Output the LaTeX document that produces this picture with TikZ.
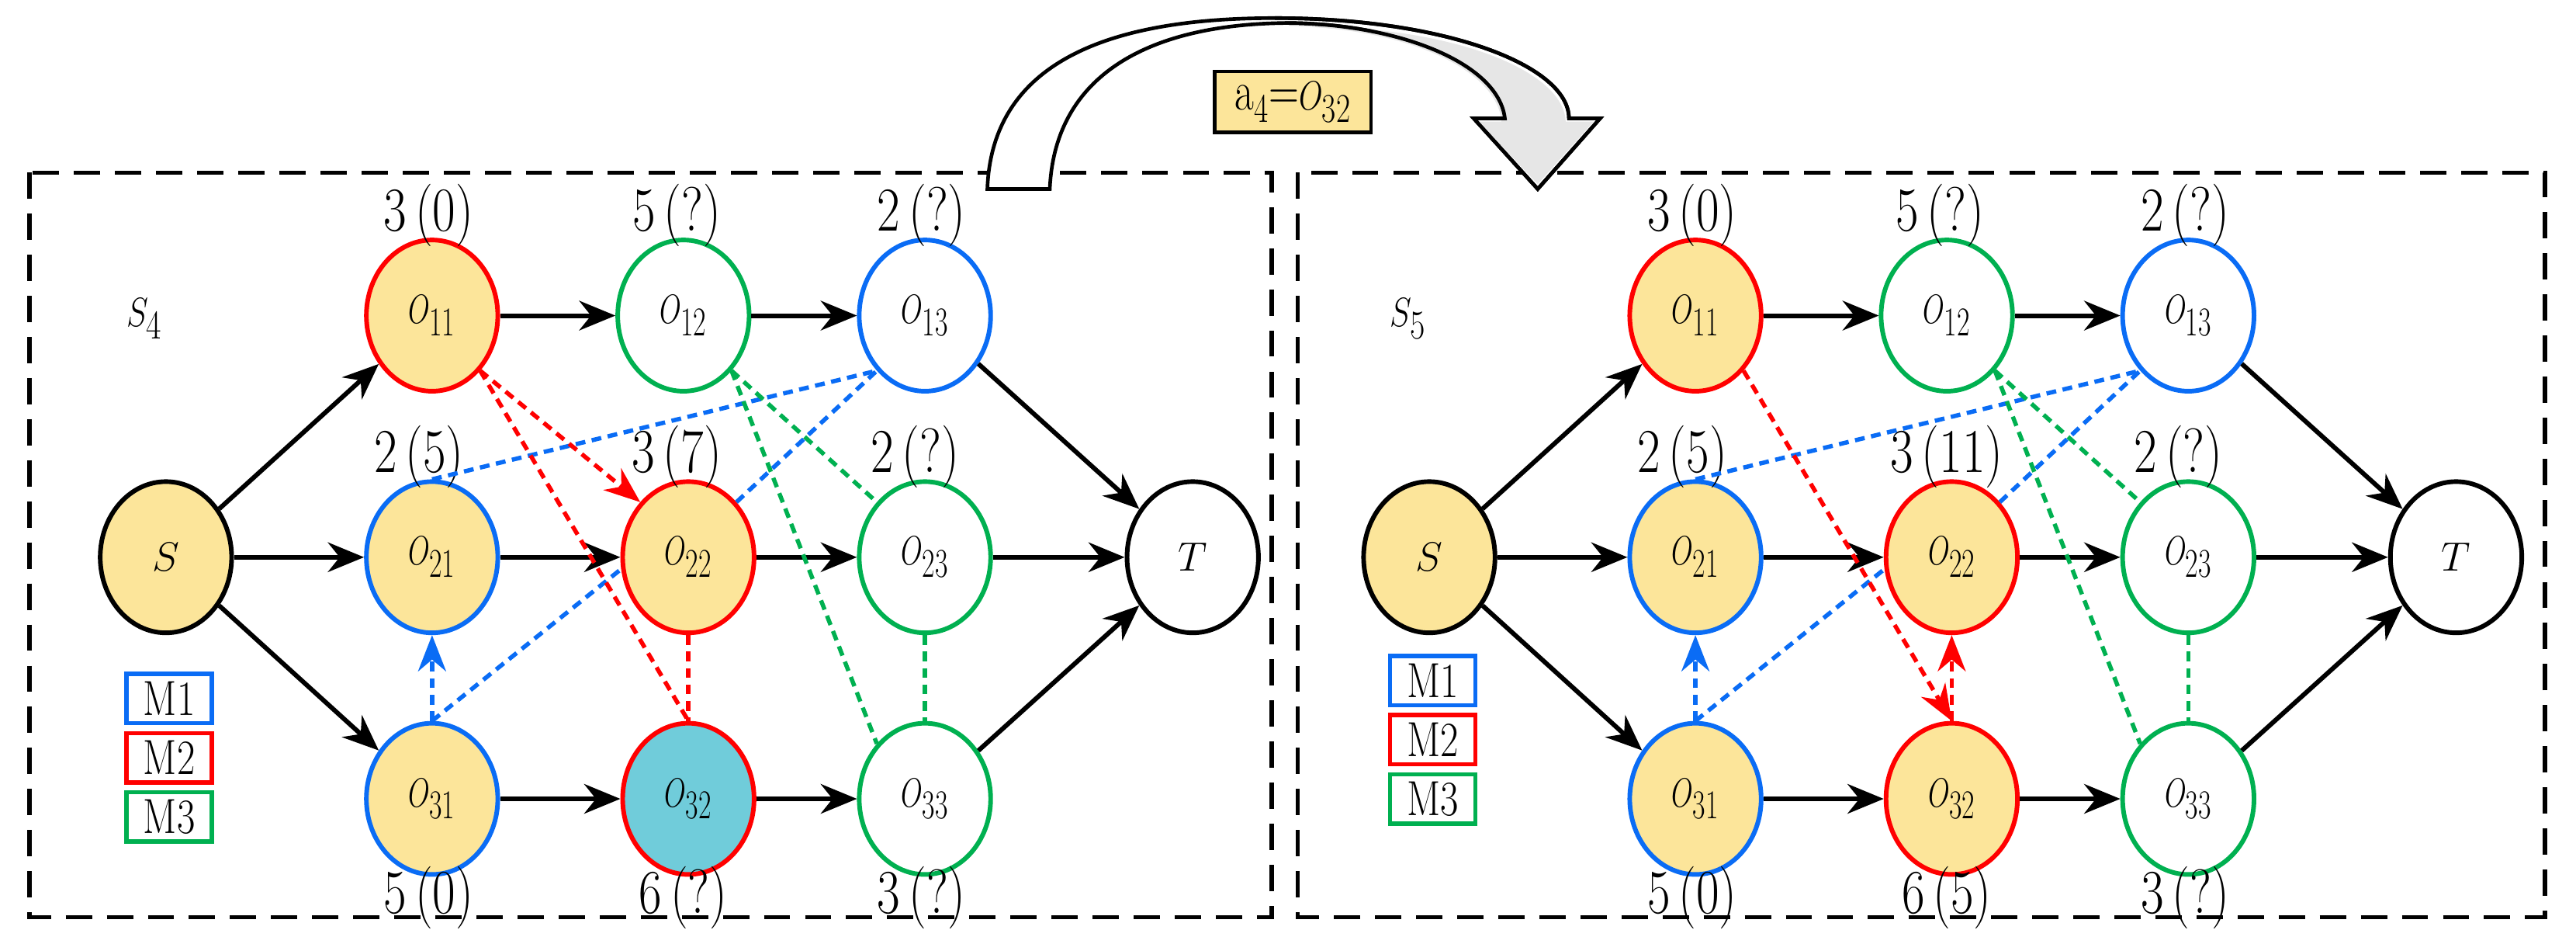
\documentclass[tikz,border=0pt]{standalone}
\usetikzlibrary{arrows.meta,shapes.geometric}
\definecolor{yel}{HTML}{FCE59A}
\definecolor{bl}{HTML}{0A6CF5}
\definecolor{rd}{HTML}{FF0000}
\definecolor{gr}{HTML}{00B050}
\definecolor{cy}{HTML}{70CCDA}
\definecolor{gry}{HTML}{E6E6E6}
\newcommand{\oo}[1]{\scalebox{0.68}[1]{$O_{#1}$}}
\newcommand{\lb}[1]{\scalebox{0.8}[1]{#1}}
\begin{document}
\begin{tikzpicture}[x=1pt,y=-1pt,line width=2.8pt,
 op/.style={ellipse,draw,line width=2.8pt,minimum width=80pt,minimum height=92pt,inner sep=0pt,font=\fontsize{50}{50}\selectfont},
 lab/.style={font=\fontsize{38}{38}\selectfont,inner sep=0pt},
 arr/.style={-{Stealth[length=22pt,width=18pt]},black},
 dsh/.style={dash pattern=on 6pt off 4pt,line width=2.6pt},
 darr/.style={dsh,-{Stealth[length=22pt,width=17pt]}},
 leg/.style={draw,line width=2.6pt,minimum width=52pt,minimum height=30pt,inner sep=0pt,font=\fontsize{30}{30}\selectfont},
 box/.style={draw,dash pattern=on 16pt off 9pt,line width=2.6pt}]
\useasboundingbox (0,0) rectangle (1568,570);
% ===== left panel =====
\draw[box] (18,105) rectangle (774,558);
\node[font=\fontsize{40}{40}\selectfont] (aS4) at (88,194) {\lb{$S_4$}};
\node[op,fill=yel] (aS) at (101,339) {$S$};
\node[op,draw=rd,fill=yel] (a11) at (263,192) {\oo{11}};
\node[op,draw=gr] (a12) at (416,192) {\oo{12}};
\node[op,draw=bl] (a13) at (563,192) {\oo{13}};
\node[op,draw=bl,fill=yel] (a21) at (263,339) {\oo{21}};
\node[op,draw=rd,fill=yel] (a22) at (419,339) {\oo{22}};
\node[op,draw=gr] (a23) at (563,339) {\oo{23}};
\node[op,draw=bl,fill=yel] (a31) at (263,486) {\oo{31}};
\node[op,draw=rd,fill=cy] (a32) at (419,486) {\oo{32}};
\node[op,draw=gr] (a33) at (563,486) {\oo{33}};
\node[op] (aT) at (726,339) {$T$};
\node[lab] (la11) at (261,131) {\lb{3\,(0)}};
\node[lab] (la12) at (412,131) {\lb{5\,(?)}};
\node[lab] (la13) at (561,131) {\lb{2\,(?)}};
\node[lab] (la21) at (255,278) {\lb{2\,(5)}};
\node[lab] (la22) at (412,278) {\lb{3\,(7)}};
\node[lab] (la23) at (557,278) {\lb{2\,(?)}};
\node[lab] (la31) at (261,546) {\lb{5\,(0)}};
\node[lab] (la32) at (416,546) {\lb{6\,(?)}};
\node[lab] (la33) at (561,546) {\lb{3\,(?)}};
\node[leg,draw=bl] (am1) at (103,425) {\lb{M1}};
\node[leg,draw=rd] (am2) at (103,461) {\lb{M2}};
\node[leg,draw=gr] (am3) at (103,497) {\lb{M3}};
\foreach \a/\b in {aS/a11,aS/a21,aS/a31,a11/a12,a12/a13,a21/a22,a22/a23,a31/a32,a32/a33,a13/aT,a23/aT,a33/aT}
  \draw[arr] (\a) -- (\b);
\draw[dsh,bl] (a21.north) -- (a13.south west);
\draw[dsh,bl] (a22.north east) -- (a13.south west);
\draw[dsh,bl] (a31.north) -- (a22.190);
\draw[darr,bl] (a31.north) -- (a21.south);
\draw[darr,rd] (a11.south east) -- (a22.north west);
\draw[dsh,rd] (a11.south east) -- (a32.north);
\draw[dsh,rd] (a22.south) -- (a32.north);
\draw[dsh,gr] (a12.south east) -- (a23.north west);
\draw[dsh,gr] (a12.south east) -- (a33.north west);
\draw[dsh,gr] (a23.south) -- (a33.north);
% ===== right panel =====
\begin{scope}[xshift=769pt]
\draw[box] (21,105) rectangle (780,558);
\node[font=\fontsize{40}{40}\selectfont] (bS5) at (88,194) {\lb{$S_5$}};
\node[op,fill=yel] (bS) at (101,339) {$S$};
\node[op,draw=rd,fill=yel] (b11) at (263,192) {\oo{11}};
\node[op,draw=gr] (b12) at (416,192) {\oo{12}};
\node[op,draw=bl] (b13) at (563,192) {\oo{13}};
\node[op,draw=bl,fill=yel] (b21) at (263,339) {\oo{21}};
\node[op,draw=rd,fill=yel] (b22) at (419,339) {\oo{22}};
\node[op,draw=gr] (b23) at (563,339) {\oo{23}};
\node[op,draw=bl,fill=yel] (b31) at (263,486) {\oo{31}};
\node[op,draw=rd,fill=yel] (b32) at (419,486) {\oo{32}};
\node[op,draw=gr] (b33) at (563,486) {\oo{33}};
\node[op] (bT) at (726,339) {$T$};
\node[lab] (lb11) at (261,131) {\lb{3\,(0)}};
\node[lab] (lb12) at (412,131) {\lb{5\,(?)}};
\node[lab] (lb13) at (561,131) {\lb{2\,(?)}};
\node[lab] (lb21) at (255,278) {\lb{2\,(5)}};
\node[lab] (lb22) at (416,278) {\lb{3\,(11)}};
\node[lab] (lb23) at (557,278) {\lb{2\,(?)}};
\node[lab] (lb31) at (261,546) {\lb{5\,(0)}};
\node[lab] (lb32) at (416,546) {\lb{6\,(5)}};
\node[lab] (lb33) at (561,546) {\lb{3\,(?)}};
\node[leg,draw=bl] (bm1) at (103,414) {\lb{M1}};
\node[leg,draw=rd] (bm2) at (103,450) {\lb{M2}};
\node[leg,draw=gr] (bm3) at (103,486) {\lb{M3}};
\foreach \a/\b in {bS/b11,bS/b21,bS/b31,b11/b12,b12/b13,b21/b22,b22/b23,b31/b32,b32/b33,b13/bT,b23/bT,b33/bT}
  \draw[arr] (\a) -- (\b);
\draw[dsh,bl] (b21.north) -- (b13.south west);
\draw[dsh,bl] (b22.north east) -- (b13.south west);
\draw[dsh,bl] (b31.north) -- (b22.190);
\draw[darr,bl] (b31.north) -- (b21.south);
\draw[darr,rd] (b11.south east) -- (b32.north);
\draw[darr,rd] (b32.north) -- (b22.south);
\draw[dsh,gr] (b12.south east) -- (b23.north west);
\draw[dsh,gr] (b12.south east) -- (b33.north west);
\draw[dsh,gr] (b23.south) -- (b33.north);
\end{scope}
% ===== transition arrow =====
\draw[line width=2.2pt,fill=white] (601,115) .. controls (604,30) and (690,11) .. (776,11)
  .. controls (880,11) and (955,40) .. (955,72) -- (974,72) -- (936,115) -- (897,72) -- (916,72)
  .. controls (912,38) and (850,14) .. (782,14) .. controls (700,15) and (642,45) .. (639,115) -- cycle;
\fill[gry] (782,16) .. controls (850,16) and (911,40) .. (914,74) -- (900,74) -- (936,112) -- (970,74) -- (953,74)
  .. controls (952,42) and (880,14) .. (782,16) -- cycle;
\draw[line width=2.2pt] (776,11) .. controls (880,11) and (955,40) .. (955,72) -- (974,72) -- (936,115) -- (897,72) -- (916,72)
  .. controls (912,38) and (850,14) .. (782,14);
\node[draw,fill=yel,line width=2.2pt,minimum width=95pt,minimum height=37pt,inner sep=0pt,font=\fontsize{34}{34}\selectfont] (act) at (787,62) {\scalebox{0.75}[1]{a$_4$=$O_{32}$}};
\end{tikzpicture}
\end{document}
